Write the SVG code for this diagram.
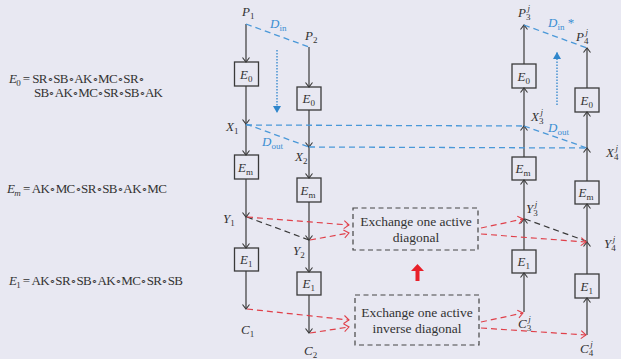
<svg xmlns="http://www.w3.org/2000/svg" width="621" height="359" viewBox="0 0 621 359">
<defs>
<style>
.bg{fill:#e8e8f2}
.ln{stroke:#3a3a3a;stroke-width:1.2;fill:none}
.box{fill:none;stroke:#3a3a3a;stroke-width:1.3}
.dbox{fill:none;stroke:#444;stroke-width:1.2;stroke-dasharray:5 3.5}
.blue{stroke:#4a98d8;stroke-width:1.3;stroke-dasharray:6 4;fill:none}
.dot{stroke:#2f86cc;stroke-width:1.3;stroke-dasharray:1.5 1.5;fill:none}
.red{stroke:#e0404a;stroke-width:1.2;stroke-dasharray:6 4;fill:none}
.blk{stroke:#3a3a3a;stroke-width:1.2;stroke-dasharray:6 4;fill:none}
.t{font-family:"Liberation Serif","Times New Roman",serif;fill:#333}
.i{font-style:italic}
.eq{font-size:13px}
.o{font-size:10.5px}
.lb{font-size:13px}
.bt{font-size:13px}
.ex{font-size:13.5px;text-anchor:middle}
.bl{fill:#3a8ed2}
</style>
<marker id="ah" viewBox="-6 -5 8 10" markerWidth="8" markerHeight="10" refX="0" refY="0" orient="auto" markerUnits="userSpaceOnUse">
<path d="M-4.5,-3.5 L0,0 L-4.5,3.5" fill="none" stroke="#3a3a3a" stroke-width="1.1"/>
</marker>
<marker id="rh" viewBox="-6 -5 8 10" markerWidth="8" markerHeight="10" refX="0" refY="0" orient="auto" markerUnits="userSpaceOnUse">
<path d="M-5,-4 L0,0 L-5,4" fill="none" stroke="#e0404a" stroke-width="1.1"/>
</marker>
<marker id="bh" viewBox="-8 -5 9 10" markerWidth="9" markerHeight="10" refX="0" refY="0" orient="auto" markerUnits="userSpaceOnUse">
<path d="M-7,-4 L0,0 L-7,4 Z" fill="#2f86cc"/>
</marker>
</defs>
<rect class="bg" x="0" y="0" width="621" height="359"/>

<g id="equations" class="t eq">
<text x="9" y="83" textLength="136" lengthAdjust="spacing"><tspan class="i">E</tspan><tspan dy="3" font-size="9">0</tspan><tspan dy="-3"> = SR</tspan><tspan class="o">∘</tspan>SB<tspan class="o">∘</tspan>AK<tspan class="o">∘</tspan>MC<tspan class="o">∘</tspan>SR<tspan class="o">∘</tspan></text>
<text x="34" y="97" textLength="129" lengthAdjust="spacing">SB<tspan class="o">∘</tspan>AK<tspan class="o">∘</tspan>MC<tspan class="o">∘</tspan>SR<tspan class="o">∘</tspan>SB<tspan class="o">∘</tspan>AK</text>
<text x="7" y="193" textLength="160" lengthAdjust="spacing"><tspan class="i">E</tspan><tspan dy="3" font-size="9" class="i">m</tspan><tspan dy="-3"> = AK</tspan><tspan class="o">∘</tspan>MC<tspan class="o">∘</tspan>SR<tspan class="o">∘</tspan>SB<tspan class="o">∘</tspan>AK<tspan class="o">∘</tspan>MC</text>
<text x="9" y="285" textLength="174" lengthAdjust="spacing"><tspan class="i">E</tspan><tspan dy="3" font-size="9">1</tspan><tspan dy="-3"> = AK</tspan><tspan class="o">∘</tspan>SR<tspan class="o">∘</tspan>SB<tspan class="o">∘</tspan>AK<tspan class="o">∘</tspan>MC<tspan class="o">∘</tspan>SR<tspan class="o">∘</tspan>SB</text>
</g>

<g id="connectors">
<!-- column 1 -->
<line class="ln" x1="246" y1="24" x2="246" y2="62" marker-end="url(#ah)"/>
<line class="ln" x1="246" y1="86" x2="246" y2="124" marker-end="url(#ah)"/>
<line class="ln" x1="246" y1="124" x2="246" y2="155" marker-end="url(#ah)"/>
<line class="ln" x1="246" y1="179" x2="246" y2="217" marker-end="url(#ah)"/>
<line class="ln" x1="246" y1="217" x2="246" y2="248" marker-end="url(#ah)"/>
<line class="ln" x1="246" y1="271" x2="246" y2="309" marker-end="url(#ah)"/>
<!-- column 2 -->
<line class="ln" x1="309" y1="47" x2="309" y2="87" marker-end="url(#ah)"/>
<line class="ln" x1="309" y1="110" x2="309" y2="147" marker-end="url(#ah)"/>
<line class="ln" x1="309" y1="147" x2="309" y2="178" marker-end="url(#ah)"/>
<line class="ln" x1="309" y1="202" x2="309" y2="240" marker-end="url(#ah)"/>
<line class="ln" x1="309" y1="240" x2="309" y2="272" marker-end="url(#ah)"/>
<line class="ln" x1="309" y1="295" x2="309" y2="333" marker-end="url(#ah)"/>
<!-- column 3 -->
<line class="ln" x1="524" y1="312" x2="524" y2="273" marker-end="url(#ah)"/>
<line class="ln" x1="524" y1="250" x2="524" y2="219" marker-end="url(#ah)"/>
<line class="ln" x1="524" y1="219" x2="524" y2="180" marker-end="url(#ah)"/>
<line class="ln" x1="524" y1="157" x2="524" y2="126" marker-end="url(#ah)"/>
<line class="ln" x1="524" y1="126" x2="524" y2="88" marker-end="url(#ah)"/>
<line class="ln" x1="524" y1="64" x2="524" y2="25" marker-end="url(#ah)"/>
<!-- column 4 -->
<line class="ln" x1="587" y1="335" x2="587" y2="298" marker-end="url(#ah)"/>
<line class="ln" x1="587" y1="274" x2="587" y2="242" marker-end="url(#ah)"/>
<line class="ln" x1="587" y1="242" x2="587" y2="204" marker-end="url(#ah)"/>
<line class="ln" x1="587" y1="181" x2="587" y2="148" marker-end="url(#ah)"/>
<line class="ln" x1="587" y1="148" x2="587" y2="112" marker-end="url(#ah)"/>
<line class="ln" x1="587" y1="88" x2="587" y2="48" marker-end="url(#ah)"/>
<!-- blue differences -->
<line class="blue" x1="246" y1="24" x2="309" y2="47"/>
<line class="blue" x1="246" y1="124" x2="309" y2="147"/>
<line class="blue" x1="246" y1="125" x2="524" y2="126"/>
<line class="blue" x1="309" y1="147" x2="587" y2="148"/>
<line class="blue" x1="524" y1="25" x2="587" y2="48"/>
<line class="blue" x1="524" y1="126" x2="587" y2="148"/>
<line class="dot" x1="277" y1="50" x2="277" y2="113" marker-end="url(#bh)"/>
<line class="dot" x1="557" y1="105" x2="557" y2="52" marker-end="url(#bh)"/>
<!-- black dashed -->
<line class="blk" x1="247" y1="217" x2="309" y2="240"/>
<line class="blk" x1="525" y1="219" x2="586" y2="241"/>
<!-- red dashed -->
<line class="red" x1="247" y1="217" x2="349" y2="225" marker-end="url(#rh)"/>
<line class="red" x1="310" y1="240" x2="349" y2="233" marker-end="url(#rh)"/>
<line class="red" x1="247" y1="309" x2="349" y2="320" marker-end="url(#rh)"/>
<line class="red" x1="310" y1="333" x2="349" y2="327" marker-end="url(#rh)"/>
<line class="red" x1="481" y1="228" x2="523" y2="219" marker-end="url(#rh)"/>
<line class="red" x1="481" y1="234" x2="586" y2="242" marker-end="url(#rh)"/>
<line class="red" x1="481" y1="322" x2="523" y2="313" marker-end="url(#rh)"/>
<line class="red" x1="481" y1="328" x2="586" y2="335" marker-end="url(#rh)"/>
<!-- red up arrow -->
<path d="M415.5,281 L415.5,271 L411,271 L417.5,264 L424,271 L419.5,271 L419.5,281 Z" fill="#e8202a"/>
</g>

<g id="col1" class="t lb">
<g id="P1"><text x="242" y="16"><tspan class="i">P</tspan><tspan dy="3" font-size="9">1</tspan></text></g>
<g id="E0-1"><rect class="box" x="234.5" y="62" width="24" height="24"/><text x="240" y="79" class="bt"><tspan class="i">E</tspan><tspan dy="3" font-size="9">0</tspan></text></g>
<g id="X1"><text x="226" y="131"><tspan class="i">X</tspan><tspan dy="3" font-size="9">1</tspan></text></g>
<g id="Em-1"><rect class="box" x="234.5" y="155" width="24" height="24"/><text x="238" y="172" class="bt"><tspan class="i">E</tspan><tspan dy="3" font-size="9">m</tspan></text></g>
<g id="Y1"><text x="223" y="223"><tspan class="i">Y</tspan><tspan dy="3" font-size="9">1</tspan></text></g>
<g id="E1-1"><rect class="box" x="234.5" y="248" width="24" height="23"/><text x="240" y="264" class="bt"><tspan class="i">E</tspan><tspan dy="3" font-size="9">1</tspan></text></g>
<g id="C1"><text x="241" y="334"><tspan class="i">C</tspan><tspan dy="3" font-size="9">1</tspan></text></g>
</g>

<g id="col2" class="t lb">
<g id="P2"><text x="305" y="40"><tspan class="i">P</tspan><tspan dy="3" font-size="9">2</tspan></text></g>
<g id="E0-2"><rect class="box" x="297" y="87" width="24" height="23"/><text x="302.5" y="103" class="bt"><tspan class="i">E</tspan><tspan dy="3" font-size="9">0</tspan></text></g>
<g id="X2"><text x="295" y="161"><tspan class="i">X</tspan><tspan dy="3" font-size="9">2</tspan></text></g>
<g id="Em-2"><rect class="box" x="297" y="178" width="24" height="24"/><text x="300.5" y="195" class="bt"><tspan class="i">E</tspan><tspan dy="3" font-size="9">m</tspan></text></g>
<g id="Y2"><text x="293" y="255"><tspan class="i">Y</tspan><tspan dy="3" font-size="9">2</tspan></text></g>
<g id="E1-2"><rect class="box" x="297" y="272" width="24" height="23"/><text x="302.5" y="288" class="bt"><tspan class="i">E</tspan><tspan dy="3" font-size="9">1</tspan></text></g>
<g id="C2"><text x="304" y="355"><tspan class="i">C</tspan><tspan dy="3" font-size="9">2</tspan></text></g>
</g>

<g id="col3" class="t lb">
<g id="P3"><text x="518" y="17"><tspan class="i">P</tspan><tspan dy="3" font-size="9">3</tspan><tspan dx="-3" dy="-9" font-size="9" class="i">j</tspan></text></g>
<g id="E0-3"><rect class="box" x="512" y="64" width="24" height="24"/><text x="517.5" y="81" class="bt"><tspan class="i">E</tspan><tspan dy="3" font-size="9">0</tspan></text></g>
<g id="X3"><text x="531" y="121"><tspan class="i">X</tspan><tspan dy="3" font-size="9">3</tspan><tspan dx="-3" dy="-9" font-size="9" class="i">j</tspan></text></g>
<g id="Em-3"><rect class="box" x="512" y="157" width="24" height="23"/><text x="515.5" y="173" class="bt"><tspan class="i">E</tspan><tspan dy="3" font-size="9">m</tspan></text></g>
<g id="Y3"><text x="526" y="213"><tspan class="i">Y</tspan><tspan dy="3" font-size="9">3</tspan><tspan dx="-3" dy="-9" font-size="9" class="i">j</tspan></text></g>
<g id="E1-3"><rect class="box" x="512" y="250" width="24" height="23"/><text x="517.5" y="266" class="bt"><tspan class="i">E</tspan><tspan dy="3" font-size="9">1</tspan></text></g>
<g id="C3"><text x="518" y="328"><tspan class="i">C</tspan><tspan dy="3" font-size="9">3</tspan><tspan dx="-3" dy="-9" font-size="9" class="i">j</tspan></text></g>
</g>

<g id="col4" class="t lb">
<g id="P4"><text x="576" y="41"><tspan class="i">P</tspan><tspan dy="3" font-size="9">4</tspan><tspan dx="-3" dy="-9" font-size="9" class="i">j</tspan></text></g>
<g id="E0-4"><rect class="box" x="575" y="88" width="24" height="24"/><text x="580.5" y="105" class="bt"><tspan class="i">E</tspan><tspan dy="3" font-size="9">0</tspan></text></g>
<g id="X4"><text x="606" y="157"><tspan class="i">X</tspan><tspan dy="3" font-size="9">4</tspan><tspan dx="-3" dy="-9" font-size="9" class="i">j</tspan></text></g>
<g id="Em-4"><rect class="box" x="575" y="181" width="24" height="23"/><text x="578.5" y="197" class="bt"><tspan class="i">E</tspan><tspan dy="3" font-size="9">m</tspan></text></g>
<g id="Y4"><text x="604" y="248"><tspan class="i">Y</tspan><tspan dy="3" font-size="9">4</tspan><tspan dx="-3" dy="-9" font-size="9" class="i">j</tspan></text></g>
<g id="E1-4"><rect class="box" x="575" y="274" width="24" height="24"/><text x="580.5" y="291" class="bt"><tspan class="i">E</tspan><tspan dy="3" font-size="9">1</tspan></text></g>
<g id="C4"><text x="580" y="353"><tspan class="i">C</tspan><tspan dy="3" font-size="9">4</tspan><tspan dx="-3" dy="-9" font-size="9" class="i">j</tspan></text></g>
</g>

<g id="diff-labels" class="t lb">
<text x="270" y="28" class="bl"><tspan class="i">D</tspan><tspan dy="3" font-size="9">in</tspan></text>
<text x="262" y="146" class="bl"><tspan class="i">D</tspan><tspan dy="3" font-size="9">out</tspan></text>
<text x="548" y="27" class="bl"><tspan class="i">D</tspan><tspan dy="3" font-size="9">in</tspan><tspan dy="-3"> *</tspan></text>
<text x="548" y="132" class="bl"><tspan class="i">D</tspan><tspan dy="3" font-size="9">out</tspan></text>
</g>

<g id="exchange-diagonal">
<rect class="dbox" x="353" y="208" width="125" height="42"/>
<text class="t ex" x="416" y="226">Exchange one active</text>
<text class="t ex" x="416" y="242">diagonal</text>
</g>
<g id="exchange-inverse">
<rect class="dbox" x="355" y="295" width="124" height="50"/>
<text class="t ex" x="417" y="317">Exchange one active</text>
<text class="t ex" x="417" y="333">inverse diagonal</text>
</g>
</svg>
